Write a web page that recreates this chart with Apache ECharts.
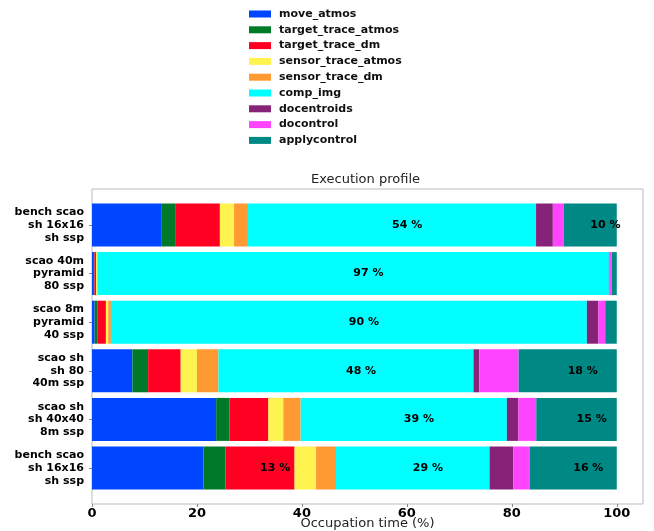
<!DOCTYPE html>
<html>
<head>
<meta charset="utf-8">
<script src="https://cdn.jsdelivr.net/npm/echarts@6/dist/echarts.min.js"></script>
<style>html,body{margin:0;padding:0;background:#fff;}#c{width:654px;height:531px;}</style>
</head>
<body>
<div id="c"></div>
<script>
const categories = [
  'bench scao\nsh 16x16\nsh ssp',
  'scao 40m\npyramid\n80 ssp',
  'scao 8m\npyramid\n40 ssp',
  'scao sh\nsh 80\n40m ssp',
  'scao sh\nsh 40x40\n8m ssp',
  'bench scao\nsh 16x16\nsh ssp'
];
const seriesNames = ['move_atmos','target_trace_atmos','target_trace_dm','sensor_trace_atmos','sensor_trace_dm','comp_img','docentroids','docontrol','applycontrol'];
const move_atmos         = [13.3, 0.2, 0.5, 7.7, 23.66, 21.25];
const target_trace_atmos = [2.67, 0.25, 0.5, 3.0, 2.55, 4.2];
const target_trace_dm    = [8.4, 0.35, 1.65, 6.2, 7.4, 13.15];
const sensor_trace_atmos = [2.7, 0.2, 0.45, 3.1, 2.85, 4.1];
const sensor_trace_dm    = [2.65, 0.1, 0.5, 4.1, 3.3, 3.8];
const comp_img           = [54.9, 97.4, 90.7, 48.6, 39.3, 29.26];
const docentroids        = [3.2, 0.1, 2.2, 1.1, 2.2, 4.5];
const docontrol          = [2.1, 0.45, 1.3, 7.5, 3.4, 3.15];
const applycontrol       = [10.08, 0.95, 2.2, 18.7, 15.34, 16.59];
const xTicks = [0, 20, 40, 60, 80, 100];
const colors = ['#0045ff','#007a28','#ff0022','#fff44f','#ff9a33','#00ffff','#862278','#ff44ff','#008884'];
const allData = [move_atmos,target_trace_atmos,target_trace_dm,sensor_trace_atmos,sensor_trace_dm,comp_img,docentroids,docontrol,applycontrol];

const font = 'DejaVu Sans';
const chart = echarts.init(document.getElementById('c'), null, {renderer:'canvas'});
chart.setOption({
  backgroundColor: '#fff',
  animation: false,
  textStyle: {fontFamily: font},
  title: {
    text: 'Execution profile', left: 311, top: 173, padding: 0,
    textStyle: {fontSize: 13, fontWeight: 'normal', color: '#222', fontFamily: font}
  },
  legend: {
    orient: 'vertical', left: 249, top: 8.5, padding: 0,
    itemWidth: 22, itemHeight: 7, itemGap: 4.8, icon: 'rect',
    data: seriesNames,
    textStyle: {fontSize: 11, fontWeight: 'bold', color: '#111', fontFamily: font, padding: [0,0,0,3]}
  },
  grid: [
    {left: 92, right: 11, top: 200.7, height: 291.6, containLabel: false, outerBoundsMode: 'none'},
    {left: 92, right: 11, top: 189, bottom: 27, show: true, borderColor: '#bbbbbb', borderWidth: 1, backgroundColor: 'transparent', outerBoundsMode: 'none'}
  ],
  xAxis: [
    {
      type: 'value', gridIndex: 0, min: 0, max: 105, interval: 20, offset: 11.7,
      axisLine: {show: false},
      axisTick: {show: true, length: 3, lineStyle: {color: '#888'}},
      splitLine: {show: false},
      axisLabel: {
        fontSize: 13, fontWeight: 'bold', color: '#000', margin: 3, fontFamily: font,
        showMaxLabel: false,
        formatter: v => (xTicks.indexOf(v) >= 0 ? String(v) : '')
      },
      name: 'Occupation time (%)', nameLocation: 'middle', nameGap: 13, nameMoveOverlap: false,
      nameTextStyle: {fontSize: 13, color: '#222', fontFamily: font}
    },
    {type: 'value', gridIndex: 1, show: false, min: 0, max: 105}
  ],
  yAxis: [
    {
      type: 'category', gridIndex: 0, data: categories, inverse: true,
      axisLine: {show: false},
      axisTick: {show: true, alignWithLabel: true, length: 3, lineStyle: {color: '#888'}},
      axisLabel: {fontSize: 11, fontWeight: 'bold', color: '#000', margin: 8, lineHeight: 12.7, fontFamily: font}
    },
    {type: 'value', gridIndex: 1, show: false, min: 0, max: 1}
  ],
  series: seriesNames.map((name, i) => ({
    name: name,
    type: 'bar',
    stack: 'total',
    xAxisIndex: 0, yAxisIndex: 0,
    barWidth: 43,
    itemStyle: {color: colors[i]},
    label: {
      show: i > 0,
      position: ['50%', '50%'],
      align: 'left', verticalAlign: 'middle',
      fontSize: 11, fontWeight: 'bold', color: '#000', fontFamily: font,
      formatter: p => (p.value >= 10 ? Math.floor(p.value) + ' %' : '')
    },
    data: allData[i]
  }))
});
</script>
</body>
</html>
